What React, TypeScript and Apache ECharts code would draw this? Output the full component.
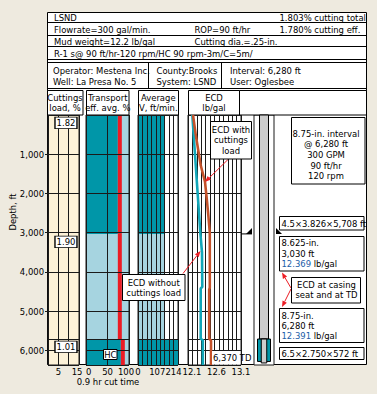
import React, { useEffect, useRef } from 'react';
import * as echarts from 'echarts';

// ---------- data ----------
const sectionTop = [0, 3030, 5708];
const sectionBottom = [3030, 5708, 6370];
const sectionKind = ['teal', 'light', 'teal'];
const cuttingsLoad = [1.82, 1.9, 1.01];
const transportEff = [74, 74, 81];
const avgVelocity = [141, 144, 214];

const ecdCleanDepth = [0, 3000, 3500, 4380, 4420, 5700, 5740, 6370];
const ecdClean = [12.108, 12.271, 12.305, 12.311, 12.279, 12.279, 12.322, 12.322];
const ecdLoadedDepth = [0, 500, 1280, 1700, 2120, 2550, 3000, 4400, 4450, 5700, 5750, 6370];
const ecdLoaded = [12.122, 12.177, 12.279, 12.366, 12.401, 12.434, 12.464, 12.464, 12.452, 12.452, 12.489, 12.489];

const cutLabels = [5, 15];
const transLabels = [0, 50, 100];
const velLabels = [0, 107];
const velMaxLabel = [214];
const ecdLabels = [12.1, 12.6, 13.1];

const stringTop = [0, 5708];
const stringBottom = [5708, 6280];
const stringOD = [4.5, 6.5];
const stringID = [3.826, 2.75];
const casingShoeDepth = [3030];
const TD = 6370;

// ---------- style ----------
const FONT = "'Liberation Sans Narrow', 'DejaVu Sans Condensed', 'Arial Narrow', 'Liberation Sans', sans-serif";
const FS = 9.4;
const TEAL = '#0096a8';
const LIGHT = '#a6d4e0';
const CREAM = '#fdf2d8';
const RED = '#ec1c24';
const BROWN = '#c4522b';
const TEALLINE = '#12a7b9';
const GRAY = '#cdcdcd';
const BG = '#eeeadf';
const BLUE = '#1c5ea8';
const INK = '#1a1a1a';
const TOP = 115;
const H = 250;

const kindColor = (k: string) => (k === 'teal' ? TEAL : LIGHT);

function txt(x: number, y: number, text: string, o: any = {}) {
  return {
    type: 'text', x, y, z: o.z ?? 20, rotation: o.rotation ?? 0,
    style: {
      text, fontFamily: FONT, fontSize: FS, fill: '#000',
      align: o.align ?? 'left', verticalAlign: 'middle', lineHeight: o.lh ?? 10.5,
      rich: o.rich,
    },
  };
}
function box(x: number, y: number, w: number, h: number, z = 20, stroke = '#000') {
  return { type: 'rect', z, shape: { x, y, width: w, height: h }, style: { fill: '#fff', stroke, lineWidth: 1 } };
}
function ln(x1: number, y1: number, x2: number, y2: number, z = 2, color = '#000') {
  return { type: 'line', z, shape: { x1, y1, x2, y2 }, style: { stroke: color, lineWidth: 1 } };
}
function arrow(x1: number, y1: number, x2: number, y2: number) {
  const a = Math.atan2(y2 - y1, x2 - x1);
  const L = 6, W = 2.4;
  const bx = x2 - L * Math.cos(a), by = y2 - L * Math.sin(a);
  const px = -Math.sin(a) * W, py = Math.cos(a) * W;
  return [
    { type: 'line', z: 30, shape: { x1, y1, x2: bx, y2: by }, style: { stroke: RED, lineWidth: 1 } },
    { type: 'polygon', z: 30, shape: { points: [[x2, y2], [bx + px, by + py], [bx - px, by - py]] }, style: { fill: RED } },
  ];
}

function rectRender(params: any, api: any) {
  const a = api.coord([api.value(0), api.value(2)]);
  const b = api.coord([api.value(1), api.value(3)]);
  return {
    type: 'rect',
    shape: { x: Math.min(a[0], b[0]), y: Math.min(a[1], b[1]), width: Math.abs(b[0] - a[0]), height: Math.abs(b[1] - a[1]) },
    style: { fill: api.visual('color') },
  };
}
function redRender(params: any, api: any) {
  const a = api.coord([api.value(0), api.value(1)]);
  const b = api.coord([api.value(0), api.value(2)]);
  return { type: 'rect', shape: { x: a[0], y: a[1], width: 4, height: b[1] - a[1] }, style: { fill: RED } };
}
function stringRender(params: any, api: any) {
  const top = api.value(0), bot = api.value(1), od = api.value(2), id = api.value(3);
  const a = api.coord([-od / 2, top]);
  const b = api.coord([od / 2, bot]);
  const children: any[] = [];
  if (params.dataIndex === 0) {
    children.push({ type: 'rect', shape: { x: a[0], y: a[1], width: b[0] - a[0], height: b[1] - a[1] }, style: { fill: GRAY, stroke: '#000', lineWidth: 1 } });
  } else {
    children.push({ type: 'rect', shape: { x: a[0], y: a[1], width: b[0] - a[0], height: b[1] - a[1] }, style: { fill: TEAL, stroke: '#000', lineWidth: 1 } });
    const c = api.coord([-id / 2, top]);
    const d = api.coord([id / 2, bot]);
    children.push({ type: 'rect', shape: { x: c[0], y: c[1], width: d[0] - c[0], height: d[1] - c[1] + 1.5 }, style: { fill: GRAY, stroke: '#000', lineWidth: 1 } });
  }
  return { type: 'group', children };
}
function shoeRender(params: any, api: any) {
  const d = api.value(0);
  const l = api.coord([-5, d]);
  const r = api.coord([5, d]);
  const y = l[1];
  return {
    type: 'group',
    children: [
      { type: 'line', shape: { x1: l[0] - 13, y1: y, x2: l[0] - 2, y2: y }, style: { stroke: '#000', lineWidth: 1 } },
      { type: 'polygon', shape: { points: [[l[0] - 2, y - 6], [l[0] - 2, y], [l[0] - 8, y]] }, style: { fill: '#000' } },
      { type: 'polygon', shape: { points: [[r[0] + 2, y - 6], [r[0] + 2, y], [r[0] + 8, y]] }, style: { fill: '#000' } },
    ],
  };
}

function buildOption(): any {
  const gridDefs = [
    { left: 48, width: 31, bg: CREAM },
    { left: 86, width: 43, bg: LIGHT },
    { left: 138, width: 40, bg: '#fff' },
    { left: 188, width: 53, bg: '#fff' },
    { left: 254, width: 20, bg: '#fff' },
  ];
  const split = { show: true, lineStyle: { color: INK, width: 1 } };
  const richBase = { fontSize: FS, fontFamily: FONT, color: '#000' };
  const labelBase = { color: '#000', fontSize: FS, fontFamily: FONT, margin: 2, showMinLabel: true, showMaxLabel: true };
  const xBase = { type: 'value', z: 5, axisLine: { show: false }, axisTick: { show: false }, splitLine: split };

  const yAxis = gridDefs.map((g, i) => ({
    type: 'value', gridIndex: i, inverse: true, min: 0, max: TD, interval: 1000, z: 5,
    axisLine: { show: false },
    axisTick: { show: i === 0, length: 3, lineStyle: { color: INK } },
    axisLabel: {
      show: i === 0, showMinLabel: false, showMaxLabel: false, color: '#000', fontSize: FS, fontFamily: FONT, margin: 4,
      formatter: (v: number) => v.toLocaleString('en-US'),
    },
    splitLine: { show: i < 4, lineStyle: { color: INK, width: 1 } },
  }));

  const xAxis = [
    {
      ...xBase, gridIndex: 0, min: 0, max: 15, interval: 5,
      axisLabel: { ...labelBase, customValues: cutLabels, formatter: (v: number) => (v === 15 ? '{r|15}' : String(v)), rich: { r: { ...richBase, padding: [0, 4, 0, 0] } } },
    },
    {
      ...xBase, gridIndex: 1, min: 0, max: 100, interval: 50,
      axisLabel: { ...labelBase, customValues: transLabels, alignMinLabel: 'left', formatter: (v: number) => (v === 100 ? '{r|100}' : String(v)), rich: { r: { ...richBase, padding: [0, 6, 0, 0] } } },
    },
    {
      ...xBase, gridIndex: 2, min: 0, max: 214, interval: 214 / 9,
      axisLabel: { ...labelBase, customValues: velLabels, formatter: (v: number) => (v === 0 ? '0' : `{l|${v}}`), rich: { l: { ...richBase, padding: [0, 1.5, 0, 0] } } },
    },
    { ...xBase, gridIndex: 3, min: 12.02, max: 13.1, splitLine: { show: false }, axisLabel: { ...labelBase, customValues: ecdLabels } },
    { ...xBase, gridIndex: 3, position: 'top', min: 0, max: 12, interval: 1, axisLabel: { show: false } },
    { ...xBase, gridIndex: 4, min: -5, max: 5, splitLine: { show: false }, axisLabel: { show: false } },
    {
      ...xBase, gridIndex: 2, position: 'bottom', min: 0, max: 214, splitLine: { show: false },
      axisLabel: { ...labelBase, customValues: velMaxLabel, formatter: (v: number) => `{r|${v}}`, rich: { r: { ...richBase, padding: [0, 9, 0, 0] } } },
    },
  ];

  const markLine = {
    silent: true, symbol: 'none', label: { show: false },
    lineStyle: { color: INK, width: 1, type: 'solid' },
    data: [{ yAxis: sectionTop[2] }],
  };

  const secIdx = sectionTop.map((_, i) => i);

  const series: any[] = [
    {
      type: 'scatter', xAxisIndex: 0, yAxisIndex: 0, z: 6, symbol: 'rect', symbolSize: [22, 11.5],
      itemStyle: { color: '#fff', borderColor: '#000', borderWidth: 1, opacity: 1 },
      label: { show: true, position: 'inside', color: '#000', fontSize: FS, fontFamily: FONT, formatter: (p: any) => p.value[2].toFixed(2) },
      data: cuttingsLoad.map((v, i) => [8.7, sectionTop[i] + 200, v]),
      markLine,
    },
    {
      type: 'custom', xAxisIndex: 1, yAxisIndex: 1, z: 1, renderItem: rectRender, encode: { x: [0, 1], y: [2, 3] },
      data: secIdx.map((i) => ({ value: [0, transportEff[i], sectionTop[i], sectionBottom[i]], itemStyle: { color: kindColor(sectionKind[i]) } })),
    },
    {
      type: 'custom', xAxisIndex: 1, yAxisIndex: 1, z: 3, renderItem: redRender, encode: { x: 0, y: [1, 2] },
      data: secIdx.map((i) => [transportEff[i], sectionTop[i], sectionBottom[i]]),
      markLine,
    },
    {
      type: 'custom', xAxisIndex: 2, yAxisIndex: 2, z: 1, renderItem: rectRender, encode: { x: [0, 1], y: [2, 3] },
      data: secIdx.map((i) => ({ value: [0, avgVelocity[i], sectionTop[i], sectionBottom[i]], itemStyle: { color: kindColor(sectionKind[i]) } })),
      markLine,
    },
    {
      type: 'line', xAxisIndex: 3, yAxisIndex: 3, z: 6, showSymbol: false, symbol: 'none',
      lineStyle: { color: TEALLINE, width: 2.6 },
      data: ecdClean.map((v, i) => [v, ecdCleanDepth[i]]),
      markLine,
    },
    {
      type: 'line', xAxisIndex: 3, yAxisIndex: 3, z: 7, showSymbol: false, symbol: 'none',
      lineStyle: { color: BROWN, width: 2.6 },
      data: ecdLoaded.map((v, i) => [v, ecdLoadedDepth[i]]),
    },
    {
      type: 'custom', xAxisIndex: 5, yAxisIndex: 4, z: 6, renderItem: stringRender, encode: { y: [0, 1] },
      data: stringTop.map((t, i) => [t, stringBottom[i], stringOD[i], stringID[i]]),
    },
    {
      type: 'custom', xAxisIndex: 5, yAxisIndex: 4, z: 6, renderItem: shoeRender, encode: { y: 0 },
      data: casingShoeDepth.map((d) => [d]),
    },
  ];

  const rich = { b: { fill: BLUE, fontSize: FS, fontFamily: FONT } };
  const elements: any[] = [
    { type: 'rect', z: -10, shape: { x: 47.5, y: 12.5, width: 319, height: 352 }, style: { fill: '#fff', stroke: '#000', lineWidth: 1 } },
    ln(47.5, 22.5, 366.5, 22.5), ln(47.5, 35.5, 366.5, 35.5), ln(47.5, 46.5, 366.5, 46.5),
    ln(47.5, 59.5, 366.5, 59.5), ln(47.5, 62.5, 366.5, 62.5), ln(47.5, 88.5, 366.5, 88.5),
    ln(148.5, 62.5, 148.5, 88.5), ln(221.5, 62.5, 221.5, 88.5),
    txt(54, 17.5, 'LSND'), txt(279.5, 17.5, '1.803% cutting total'),
    txt(54, 29, 'Flowrate=300 gal/min.'), txt(194.5, 29, 'ROP=90 ft/hr'), txt(279.5, 29, '1.780% cutting eff.'),
    txt(54, 41, 'Mud weight=12.2 lb/gal'), txt(194.5, 41, 'Cutting dia.=.25-in.'),
    txt(54, 53, 'R-1 s@ 90 ft/hr-120 rpm/HC 90 rpm-3m/C=5m/'),
    txt(53, 70, 'Operator: Mestena Inc.'), txt(53, 81, 'Well: La Presa No. 5'),
    txt(156.5, 70, 'County:Brooks'), txt(156.5, 81, 'System: LSND'),
    txt(230, 70, 'Interval: 6,280 ft'), txt(230, 81, 'User: Oglesbee'),
    box(47.5, 90.5, 35.5, 24.5, 2), box(86.5, 90.5, 42.5, 24.5, 2), box(138.5, 90.5, 40, 24.5, 2),
    box(188.5, 90.5, 51, 24.5, 2), box(239.5, 90.5, 127, 24.5, 2),
    txt(65, 102.5, 'Cuttings\nload, %', { align: 'center', lh: 9.5 }),
    txt(107.8, 102.5, 'Transport\neff. avg. %', { align: 'center', lh: 9.5 }),
    txt(158.3, 102.5, 'Average\nV, ft/min.', { align: 'center', lh: 9.5 }),
    txt(214, 102.5, 'ECD\nlb/gal', { align: 'center', lh: 9.5 }),
    txt(12, 212, 'Depth, ft', { align: 'center', rotation: Math.PI / 2 }),
    txt(108, 381.5, '0.9 hr cut time', { align: 'center' }),
    // annotations
    box(210.5, 121.5, 41, 37.5, 40), txt(231, 139.5, 'ECD with\ncuttings\nload', { align: 'center', z: 41, lh: 10.5 }),
    box(122.5, 274.5, 62.5, 26, 40), txt(153.7, 287.3, 'ECD without\ncuttings load', { align: 'center', z: 41, lh: 10 }),
    box(291.5, 117.5, 73.5, 66.5, 40), txt(326, 154.5, '8.75-in. interval\n@ 6,280 ft\n300 GPM\n90 ft/hr\n120 rpm', { align: 'center', z: 41, lh: 10.6 }),
    box(279.5, 216.5, 84.5, 13.5, 40), txt(281.5, 223.5, '4.5×3.826×5,708 ft', { z: 41 }),
    box(279.5, 236.5, 84.5, 34.5, 40), txt(281.5, 253, '8.625-in.\n3,030 ft\n{b|12.369} lb/gal', { z: 41, lh: 10.4, rich }),
    box(291.5, 277.5, 69, 25.5, 40), txt(326.5, 289.5, 'ECD at casing\nseat and at TD', { align: 'center', z: 41, lh: 10 }),
    box(279.5, 308.5, 84.5, 34, 40), txt(281.5, 325.5, '8.75-in.\n6,280 ft\n{b|12.391} lb/gal', { z: 41, lh: 10.4, rich }),
    box(279.5, 347.5, 84.5, 12, 40), txt(281.5, 353.5, '6.5×2.750×572 ft', { z: 41 }),
    box(103.5, 349.5, 13.5, 10, 40), txt(110.3, 354.7, 'HC', { align: 'center', z: 41 }),
    { type: 'rect', z: 40, shape: { x: 212, y: 351, width: 28.5, height: 13.5 }, style: { fill: '#fff' } },
    txt(213, 357.5, '6,370 TD', { z: 41 }),
    ...arrow(228, 159.5, 205, 182),
    ...arrow(183, 273.5, 200.5, 251),
    ...arrow(291, 288, 282, 272.5),
    ...arrow(291, 289, 282, 307),
  ];

  return {
    animation: false,
    backgroundColor: BG,
    textStyle: { fontFamily: FONT },
    grid: gridDefs.map((g) => ({
      left: g.left, width: g.width, top: TOP, height: H, show: true,
      backgroundColor: g.bg, borderColor: INK, borderWidth: 1,
    })),
    xAxis, yAxis, series,
    graphic: { elements },
  };
}

export default function App() {
  const ref = useRef<HTMLDivElement>(null);
  useEffect(() => {
    const chart = echarts.init(ref.current!, null, { renderer: 'svg' });
    chart.setOption(buildOption());
    return () => chart.dispose();
  }, []);
  return <div ref={ref} style={{ position: 'absolute', left: 0, top: 0, width: 377, height: 394 }} />;
}
